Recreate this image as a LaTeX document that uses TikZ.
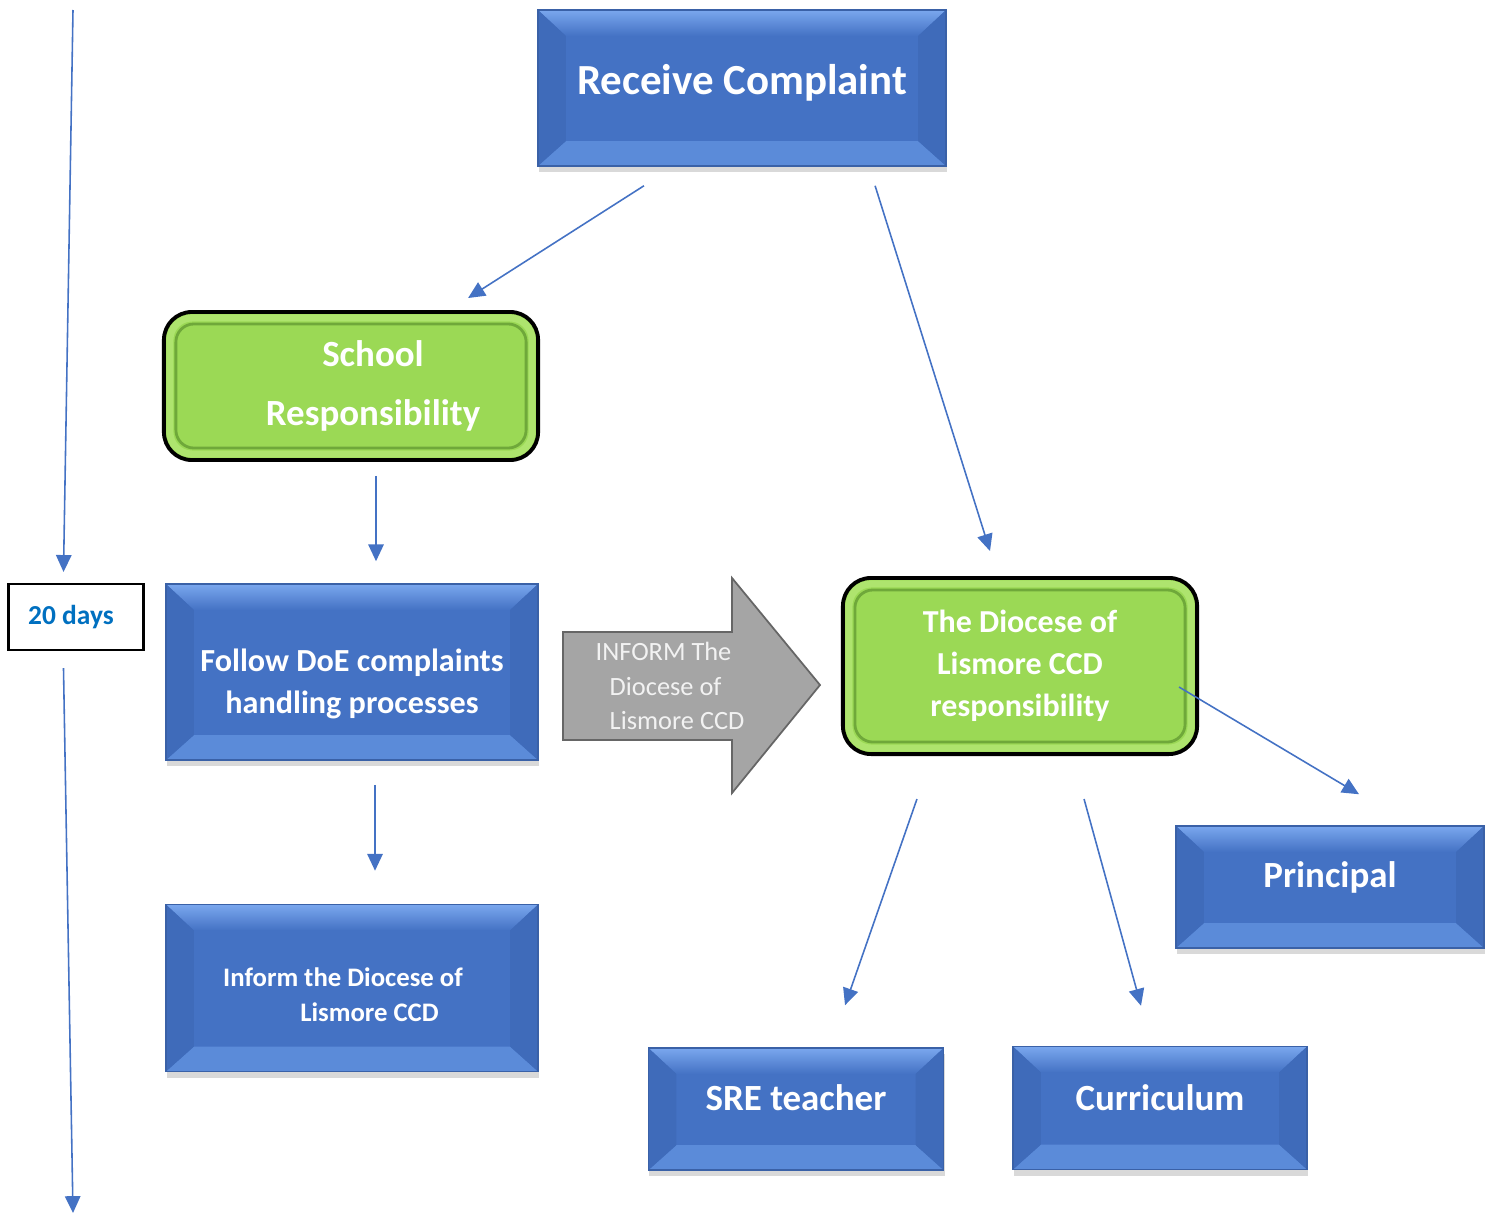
\documentclass[tikz,border=0pt]{standalone}
\usepackage{fontspec}
\setmainfont{Carlito}
\usetikzlibrary{arrows.meta, shadows, calc}

\definecolor{boxblue}{HTML}{4472C4}
\definecolor{bevlight}{HTML}{7AA7EE}
\definecolor{bevbottom}{HTML}{5B8BD9}
\definecolor{bevside}{HTML}{3F6BBA}
\definecolor{lineblue}{HTML}{4472C4}
\definecolor{boxgreen}{HTML}{9BD955}
\definecolor{greenring}{HTML}{AEE46E}
\definecolor{greenedge}{HTML}{6FA83A}
\definecolor{daysblue}{HTML}{0070C0}
\definecolor{arrowgray}{HTML}{A5A5A5}

\begin{document}
\begin{tikzpicture}[
						x=0.01cm, y=-0.01cm,
						arr/.style = {draw=lineblue, line width=0.45pt, -{Triangle[length=4.8pt, width=4.4pt]}},
						bluebox/.style = {draw=boxblue!85!black, fill=boxblue, rectangle, inner sep=0pt, text=white, align=center,
							drop shadow={shadow xshift=0.01cm, shadow yshift=-0.06cm, opacity=0.3},
							path picture={
								\path (path picture bounding box.south west) coordinate (sw)
								      (path picture bounding box.north east) coordinate (ne)
								      (sw|-ne) coordinate (nw) (ne|-sw) coordinate (se);
								\shade[top color=bevlight, bottom color=boxblue] (nw) -- (ne) -- ([shift={(-0.28cm,-0.26cm)}]ne) -- ([shift={(0.28cm,-0.26cm)}]nw) -- cycle;
								\fill[bevbottom] (sw) -- (se) -- ([shift={(-0.28cm,0.25cm)}]se) -- ([shift={(0.28cm,0.25cm)}]sw) -- cycle;
								\fill[bevside] (nw) -- ([shift={(0.28cm,-0.26cm)}]nw) -- ([shift={(0.28cm,0.25cm)}]sw) -- (sw) -- cycle;
								\fill[bevside] (ne) -- ([shift={(-0.28cm,-0.26cm)}]ne) -- ([shift={(-0.28cm,0.25cm)}]se) -- (se) -- cycle;
							}},
						greenbox/.style = {draw=black, line width=1.1pt, fill=boxgreen, rounded corners=0.28cm, inner sep=0pt, text=white, align=center,
							path picture={
								\draw[greenring, line width=2pt, rounded corners=0.22cm] ([shift={(0.06cm,0.06cm)}]path picture bounding box.south west) rectangle ([shift={(-0.06cm,-0.06cm)}]path picture bounding box.north east);
								\draw[greenedge, line width=0.8pt, rounded corners=0.18cm] ([shift={(0.12cm,0.12cm)}]path picture bounding box.south west) rectangle ([shift={(-0.12cm,-0.12cm)}]path picture bounding box.north east);
							}},
						daybox/.style = {draw=black, line width=0.6pt, fill=white, inner sep=0pt, text=daysblue}
					]
\useasboundingbox (0,0) rectangle (1492,1215);

% boxes
\node[bluebox, minimum width=4.08cm, minimum height=1.56cm, text depth=0.18cm, font=\fontsize{12.2}{14}\selectfont\bfseries] (receive) at (742,88) {Receive Complaint};
\node[greenbox, minimum width=3.74cm, minimum height=1.48cm, font=\fontsize{10.5}{16.8}\selectfont\bfseries] (school) at (351,386) {\hspace*{0.44cm}School\\\hspace*{0.44cm}Responsibility};
\node[bluebox, minimum width=3.72cm, minimum height=1.76cm, text height=0.89cm, font=\fontsize{9.15}{12}\selectfont\bfseries] (follow) at (352,672) {Follow DoE complaints\\handling processes};
\node[bluebox, minimum width=3.72cm, minimum height=1.67cm, text height=0.68cm, font=\fontsize{7.6}{10}\selectfont\bfseries] (inform) at (352,988) {\hspace*{-0.18cm}Inform the Diocese of\\\hspace*{0.35cm}Lismore CCD};
\node[greenbox, minimum width=3.54cm, minimum height=1.76cm, font=\fontsize{9.1}{12}\selectfont\bfseries] (diocese) at (1020,666) {The Diocese of\\Lismore CCD\\responsibility};
\node[bluebox, minimum width=2.95cm, minimum height=1.22cm, text depth=0.22cm, font=\fontsize{10.5}{12}\selectfont\bfseries] (sre) at (796,1109) {SRE teacher};
\node[bluebox, minimum width=2.94cm, minimum height=1.23cm, text depth=0.2cm, font=\fontsize{10.5}{12}\selectfont\bfseries] (curric) at (1160,1108) {Curriculum};
\node[bluebox, minimum width=3.08cm, minimum height=1.22cm, text depth=0.25cm, font=\fontsize{10.5}{12}\selectfont\bfseries] (principal) at (1330,887) {Principal};
\node[daybox, minimum width=1.35cm, minimum height=0.66cm, font=\fontsize{7.8}{9}\selectfont\bfseries] (days) at (76,617) {20 days\hspace*{0.1cm}};

% gray block arrow
\filldraw[fill=arrowgray, draw=gray!80!black, line width=0.5pt] (563,632) -- (732,632) -- (732,578) -- (820,685) -- (732,793) -- (732,740) -- (563,740) -- cycle;
\node[align=left, anchor=west, inner sep=0pt, text=white!95!black, font=\fontsize{7.5}{9.8}\selectfont] (tell) at (609,686) {\hspace*{-0.14cm}INFORM The\\Diocese of\\Lismore CCD};

% time line
\coordinate (top) at (73,10);
\coordinate (bottom) at (73,1213);
\draw[arr] (top) -- ([xshift=-0.125cm, yshift=0.11cm]days.north);
\draw[arr] ([xshift=-0.125cm, yshift=-0.17cm]days.south) -- (bottom);

% connectors
\draw[arr] ([xshift=-0.98cm, yshift=-0.19cm]receive.south) -- ([xshift=1.17cm, yshift=0.12cm]school.north);
\draw[arr] ([xshift=1.33cm, yshift=-0.19cm]receive.south) -- ([xshift=-0.30cm, yshift=0.25cm]diocese.north);
\draw[arr] ([xshift=0.25cm, yshift=-0.14cm]school.south) -- ([xshift=0.24cm, yshift=0.22cm]follow.north);
\draw[arr] ([xshift=0.23cm, yshift=-0.24cm]follow.south) -- ([xshift=0.23cm, yshift=0.33cm]inform.north);
\draw[arr] ([xshift=-1.03cm, yshift=-0.43cm]diocese.south) -- ([xshift=0.49cm, yshift=0.42cm]sre.north);
\draw[arr] ([xshift=0.64cm, yshift=-0.43cm]diocese.south) -- ([xshift=-0.19cm, yshift=0.40cm]curric.north);
\draw[arr] ([xshift=-0.20cm, yshift=-0.21cm]diocese.east) -- ([xshift=0.29cm, yshift=0.31cm]principal.north);
\end{tikzpicture}
\end{document}
